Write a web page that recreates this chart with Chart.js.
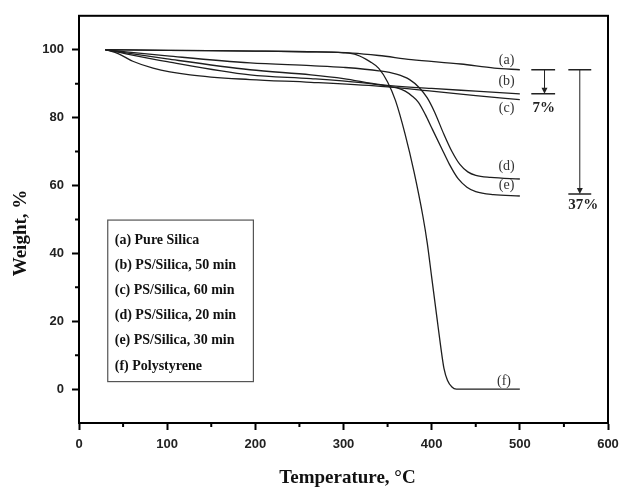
<!DOCTYPE html>
<html>
<head>
<meta charset="utf-8">
<script src="https://cdn.jsdelivr.net/npm/chart.js@4"></script>
<style>
  html, body { margin: 0; padding: 0; background: #fff; }
  #wrap { width: 622px; height: 487px; }
</style>
</head>
<body>
<div id="wrap"><canvas id="tgaChart" width="622" height="487"></canvas></div>
<script>
// TGA curves, temperature (°C) and weight (%)
const tempA = [30, 100, 200, 260, 310, 340, 377, 433, 471, 500];
const weightA = [100, 99.8, 99.6, 99.4, 99.0, 98.3, 97.1, 95.8, 94.6, 94.1];

const tempB = [30, 100, 194, 263, 300, 342, 400, 450, 500];
const weightB = [100, 97.3, 94.1, 92.6, 91.5, 89.7, 88.6, 87.8, 87.0];

const tempC = [30, 45, 61, 84, 126, 194, 263, 342, 400, 450, 500];
const weightC = [100, 98.8, 96.6, 94.6, 92.6, 91.2, 90.4, 89.2, 87.8, 86.5, 85.3];

const tempD = [30, 100, 194, 263, 300, 340, 360, 375, 386, 395, 403, 414, 423, 432, 441, 450, 467, 500];
const weightD = [100, 98.2, 96.1, 95.3, 94.8, 93.8, 92.8, 91.2, 88.8, 85.8, 81.8, 75.0, 70.0, 66.2, 64.0, 63.0, 62.4, 61.9];

const tempE = [30, 100, 194, 263, 320, 350, 360, 370, 378, 385, 393, 400, 413, 420, 430, 440, 450, 470, 500];
const weightE = [100, 96.5, 92.6, 91.5, 90.3, 89.3, 88.8, 87.8, 86.3, 84.5, 80.8, 77.0, 70.0, 66.3, 62.0, 59.5, 58.2, 57.3, 56.9];

const tempF = [30, 100, 200, 260, 300, 315, 330, 340, 350, 359, 370, 380, 390, 395, 400, 406, 410, 414, 418, 423, 428, 500];
const weightF = [100, 99.8, 99.6, 99.4, 99.1, 98.5, 96.5, 94.5, 90.5, 85.0, 75.0, 64.0, 51.0, 43.0, 33.0, 21.0, 13.0, 6.0, 2.5, 0.6, 0, 0];

const curveTags = ['(a)', '(b)', '(c)', '(d)', '(e)', '(f)'];
const legendLabels = [
    '(a) Pure Silica',
    '(b) PS/Silica, 50 min',
    '(c) PS/Silica, 60 min',
    '(d) PS/Silica, 20 min',
    '(e) PS/Silica, 30 min',
    '(f) Polystyrene'
];

const xMajorTicks = [0, 100, 200, 300, 400, 500, 600];
const yMajorTicks = [0, 20, 40, 60, 80, 100];

// where the (a)..(f) tags sit, in data units
const tagX = [485, 485, 485, 485, 485, 482];
const tagY = [96.8, 90.6, 82.6, 65.5, 59.9, 2.4];

// weight-loss brackets on the right
const brackets = [
    { text: '7%', x: 528, x0: 513, x1: 540, top: 94.1, bottom: 87.0, labelX: 527, labelY: 82.8 },
    { text: '37%', x: 568, x0: 555, x1: 581, top: 94.1, bottom: 57.5, labelX: 572, labelY: 54.1 }
];

function toPoints(xs, ys) {
    return xs.map((x, i) => ({ x: x, y: ys[i] }));
}

const seriesList = [
    [tempA, weightA], [tempB, weightB], [tempC, weightC],
    [tempD, weightD], [tempE, weightE], [tempF, weightF]
];

const datasets = seriesList.map((s, i) => ({
    label: legendLabels[i],
    data: toPoints(s[0], s[1]),
    borderColor: '#1e1e1e',
    borderWidth: 1.3,
    pointRadius: 0,
    fill: false,
    cubicInterpolationMode: 'monotone'
}));

const serif = '"Liberation Serif", "Times New Roman", serif';

// frame, minor ticks, axis titles, legend box, tags and brackets
const decorPlugin = {
    id: 'decor',
    afterDraw(chart) {
        const ctx = chart.ctx;
        const area = chart.chartArea;
        const xs = chart.scales.x;
        const ys = chart.scales.y;
        ctx.save();

        // box around the plot
        ctx.strokeStyle = '#000';
        ctx.lineWidth = 2;
        ctx.strokeRect(area.left, area.top, area.right - area.left, area.bottom - area.top);

        // minor ticks (short)
        ctx.lineWidth = 2;
        ctx.beginPath();
        xs.ticks.forEach(t => {
            if (!xMajorTicks.includes(t.value)) {
                const px = xs.getPixelForValue(t.value);
                ctx.moveTo(px, area.bottom);
                ctx.lineTo(px, area.bottom + 4);
            }
        });
        ys.ticks.forEach(t => {
            if (!yMajorTicks.includes(t.value) && t.value > ys.min && t.value < ys.max) {
                const py = ys.getPixelForValue(t.value);
                ctx.moveTo(area.left, py);
                ctx.lineTo(area.left - 4, py);
            }
        });
        ctx.stroke();

        // axis titles
        ctx.fillStyle = '#111';
        ctx.textAlign = 'center';
        ctx.textBaseline = 'middle';
        ctx.font = 'bold 19px ' + serif;
        ctx.fillText('Temperature, °C', (area.left + area.right) / 2 + 4, 478);
        ctx.save();
        ctx.translate(21, 233);
        ctx.rotate(-Math.PI / 2);
        ctx.font = 'bold 19px ' + serif;
        ctx.fillText('Weight, %', 0, 0);
        ctx.restore();

        // legend box
        const bx0 = xs.getPixelForValue(32.6);
        const bx1 = xs.getPixelForValue(197.8);
        const by0 = ys.getPixelForValue(49.8);
        const by1 = ys.getPixelForValue(2.2);
        ctx.strokeStyle = '#555';
        ctx.lineWidth = 1.2;
        ctx.strokeRect(bx0, by0, bx1 - bx0, by1 - by0);
        ctx.textAlign = 'left';
        ctx.font = 'bold 14px ' + serif;
        ctx.fillStyle = '#111';
        legendLabels.forEach((txt, i) => {
            ctx.fillText(txt, bx0 + 7, by0 + 20 + i * 25.2);
        });

        // curve tags
        ctx.textAlign = 'center';
        ctx.font = '14px ' + serif;
        ctx.fillStyle = '#333';
        curveTags.forEach((tag, i) => {
            ctx.fillText(tag, xs.getPixelForValue(tagX[i]), ys.getPixelForValue(tagY[i]));
        });

        // brackets with arrows
        ctx.strokeStyle = '#222';
        ctx.fillStyle = '#222';
        brackets.forEach(b => {
            const x = xs.getPixelForValue(b.x);
            const x0 = xs.getPixelForValue(b.x0);
            const x1 = xs.getPixelForValue(b.x1);
            const yt = ys.getPixelForValue(b.top);
            const yb = ys.getPixelForValue(b.bottom);
            ctx.lineWidth = 1.5;
            ctx.beginPath();
            ctx.moveTo(x0, yt); ctx.lineTo(x1, yt);
            ctx.moveTo(x0, yb); ctx.lineTo(x1, yb);
            ctx.stroke();
            ctx.lineWidth = 1;
            ctx.beginPath();
            ctx.moveTo(x, yt); ctx.lineTo(x, yb - 5);
            ctx.stroke();
            ctx.beginPath();
            ctx.moveTo(x - 3, yb - 6);
            ctx.lineTo(x + 3, yb - 6);
            ctx.lineTo(x, yb);
            ctx.closePath();
            ctx.fill();
            ctx.font = 'bold 15px ' + serif;
            ctx.fillText(b.text, xs.getPixelForValue(b.labelX), ys.getPixelForValue(b.labelY));
        });

        ctx.restore();
    }
};

const tickFont = { family: '"Liberation Sans", Arial, sans-serif', size: 13, weight: 'bold' };

new Chart(document.getElementById('tgaChart').getContext('2d'), {
    type: 'line',
    data: { datasets: datasets },
    options: {
        responsive: false,
        animation: false,
        layout: { padding: { left: 0, top: 14, right: 14, bottom: 0 } },
        scales: {
            x: {
                type: 'linear',
                min: 0,
                max: 600,
                afterFit: function (scale) { scale.height = 64; },
                border: { display: true, color: '#000', width: 2 },
                grid: {
                    drawOnChartArea: false,
                    tickLength: 7,
                    tickWidth: 2,
                    tickColor: c => xMajorTicks.includes(c.tick.value) ? '#000' : 'rgba(0,0,0,0)'
                },
                ticks: {
                    stepSize: 50,
                    autoSkip: false,
                    maxRotation: 0,
                    padding: 3,
                    color: '#222',
                    font: { family: tickFont.family, size: 13, weight: 'bold', lineHeight: 1.7 },
                    callback: v => xMajorTicks.includes(v) ? String(v) : ''
                }
            },
            y: {
                type: 'linear',
                min: -10,
                max: 110,
                afterFit: function (scale) { scale.width = 79; },
                border: { display: true, color: '#000', width: 2 },
                grid: {
                    drawOnChartArea: false,
                    tickLength: 7,
                    tickWidth: 2,
                    tickColor: c => yMajorTicks.includes(c.tick.value) ? '#000' : 'rgba(0,0,0,0)'
                },
                ticks: {
                    stepSize: 10,
                    autoSkip: false,
                    padding: 8,
                    color: '#222',
                    font: tickFont,
                    callback: v => yMajorTicks.includes(v) ? String(v) : ''
                }
            }
        },
        plugins: {
            legend: { display: false },
            tooltip: { enabled: false }
        }
    },
    plugins: [decorPlugin]
});
</script>
</body>
</html>
